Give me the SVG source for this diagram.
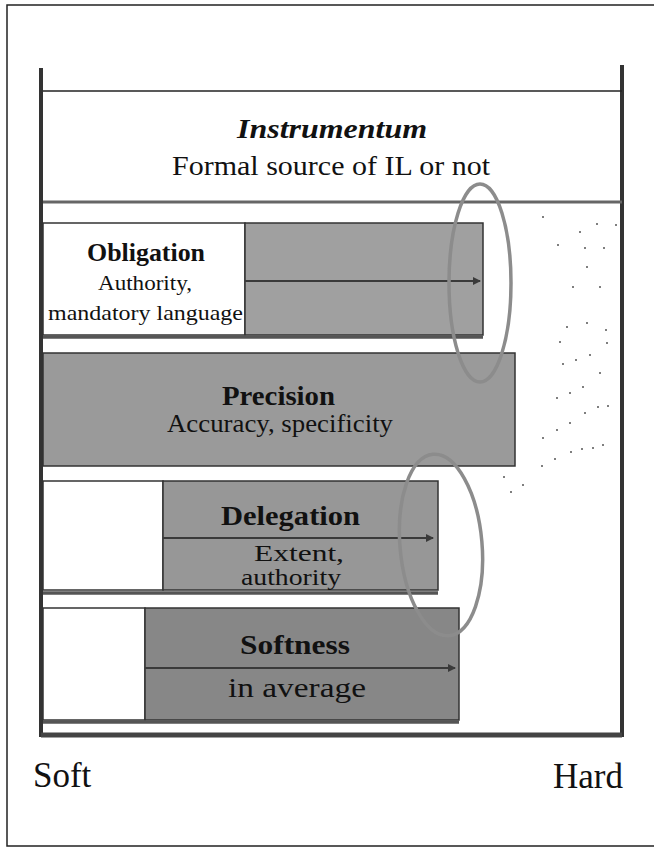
<svg xmlns="http://www.w3.org/2000/svg" width="654" height="848" viewBox="0 0 654 848">
<defs>
<style>
.t{font-family:"Liberation Serif","Times New Roman",serif;fill:#111;text-anchor:middle}
.b{font-weight:bold}
.wall{stroke:#333;stroke-width:4;fill:none}
.box{stroke:#333;stroke-width:1.5}
.white{fill:#fff}
.g1{fill:#a0a0a0}
.g2{fill:#9a9a9a}
.g3{fill:#979797}
.g4{fill:#878787}
.band{stroke:#555;stroke-width:3.5}
.arrow{stroke:#3a3a3a;stroke-width:2;fill:none;marker-end:url(#ah)}
.ring{fill:none;stroke:#8c8c8c;stroke-width:3.5}
.dot{fill:#555}
</style>
<marker id="ah" markerWidth="8" markerHeight="8" refX="7" refY="4" orient="auto" markerUnits="userSpaceOnUse">
<path d="M0,0 L8,4 L0,8 Z" fill="#3a3a3a"/>
</marker>
</defs>
<rect width="654" height="848" fill="#fff"/>
<g id="frame">
<path d="M654,5 H7 V846 H654" fill="none" stroke="#222" stroke-width="1.5"/>
</g>
<g id="container">
<line x1="41" y1="68" x2="41" y2="737" class="wall"/>
<line x1="622" y1="65" x2="622" y2="737" class="wall"/>
<line x1="41" y1="735" x2="622" y2="735" stroke="#444" stroke-width="5"/>
</g>
<g id="instrumentum">
<line x1="43" y1="91" x2="622" y2="91" stroke="#222" stroke-width="1.5"/>
<line x1="43" y1="202" x2="622" y2="202" stroke="#666" stroke-width="3"/>
<text class="t b" x="332" y="138" font-size="28" font-style="italic" textLength="190" lengthAdjust="spacingAndGlyphs">Instrumentum</text>
<text class="t" x="331" y="175" font-size="28" textLength="318" lengthAdjust="spacingAndGlyphs">Formal source of IL or not</text>
</g>
<g id="dots">
<circle class="dot" cx="543" cy="217" r="1"/><circle class="dot" cx="597" cy="224" r="1"/><circle class="dot" cx="616" cy="225" r="1"/>
<circle class="dot" cx="580" cy="232" r="1"/><circle class="dot" cx="558" cy="245" r="1"/><circle class="dot" cx="585" cy="248" r="1"/>
<circle class="dot" cx="604" cy="248" r="1"/><circle class="dot" cx="587" cy="267" r="1"/><circle class="dot" cx="573" cy="287" r="1"/>
<circle class="dot" cx="600" cy="287" r="1"/><circle class="dot" cx="567" cy="327" r="1"/><circle class="dot" cx="587" cy="323" r="1"/>
<circle class="dot" cx="606" cy="330" r="1"/><circle class="dot" cx="560" cy="342" r="1"/><circle class="dot" cx="607" cy="343" r="1"/>
<circle class="dot" cx="590" cy="355" r="1"/><circle class="dot" cx="576" cy="360" r="1"/><circle class="dot" cx="563" cy="364" r="1"/>
<circle class="dot" cx="600" cy="373" r="1"/><circle class="dot" cx="583" cy="387" r="1"/><circle class="dot" cx="570" cy="393" r="1"/>
<circle class="dot" cx="557" cy="398" r="1"/><circle class="dot" cx="608" cy="406" r="1"/><circle class="dot" cx="598" cy="407" r="1"/>
<circle class="dot" cx="585" cy="413" r="1"/><circle class="dot" cx="570" cy="423" r="1"/><circle class="dot" cx="557" cy="430" r="1"/>
<circle class="dot" cx="543" cy="438" r="1"/><circle class="dot" cx="603" cy="445" r="1"/><circle class="dot" cx="593" cy="448" r="1"/>
<circle class="dot" cx="582" cy="449" r="1"/><circle class="dot" cx="571" cy="452" r="1"/><circle class="dot" cx="555" cy="459" r="1"/>
<circle class="dot" cx="542" cy="466" r="1"/><circle class="dot" cx="523" cy="485" r="1"/><circle class="dot" cx="511" cy="492" r="1"/>
<circle class="dot" cx="504" cy="477" r="1"/>
</g>
<g id="obligation">
<rect class="box white" x="43" y="223" width="202" height="112"/>
<rect class="box g1" x="245" y="223" width="238" height="112"/>
<line class="band" x1="43" y1="337" x2="483" y2="337"/>
<text class="t b" x="146" y="261" font-size="25" textLength="118" lengthAdjust="spacingAndGlyphs">Obligation</text>
<text class="t" x="145" y="290" font-size="22" textLength="94" lengthAdjust="spacingAndGlyphs">Authority,</text>
<text class="t" x="145.5" y="320" font-size="22" textLength="195" lengthAdjust="spacingAndGlyphs">mandatory language</text>
</g>
<g id="precision">
<rect class="box g2" x="43" y="353" width="472" height="113"/>
<text class="t b" x="278.5" y="405" font-size="27" textLength="113" lengthAdjust="spacingAndGlyphs">Precision</text>
<text class="t" x="280" y="432" font-size="25" textLength="226" lengthAdjust="spacingAndGlyphs">Accuracy, specificity</text>
</g>
<g id="delegation">
<rect class="box white" x="43" y="481" width="120" height="109"/>
<rect class="box g3" x="163" y="481" width="275" height="109"/>
<line class="band" x1="43" y1="593" x2="438" y2="593"/>
<text class="t b" x="290.5" y="525" font-size="28" textLength="139" lengthAdjust="spacingAndGlyphs">Delegation</text>
<text class="t" x="299" y="561" font-size="24" textLength="90" lengthAdjust="spacingAndGlyphs">Extent,</text>
<text class="t" x="291" y="585" font-size="24" textLength="100" lengthAdjust="spacingAndGlyphs">authority</text>
</g>
<g id="softness">
<rect class="box white" x="43" y="608" width="102" height="112"/>
<rect class="box g4" x="145" y="608" width="314" height="112"/>
<line class="band" x1="43" y1="722" x2="459" y2="722"/>
<text class="t b" x="295" y="654" font-size="27" textLength="110" lengthAdjust="spacingAndGlyphs">Softness</text>
<text class="t" x="297" y="697" font-size="28" textLength="138" lengthAdjust="spacingAndGlyphs">in average</text>
</g>
<g id="connectors">
<line class="arrow" x1="245" y1="281" x2="480" y2="281"/>
<line class="arrow" x1="163" y1="538" x2="433" y2="538"/>
<line class="arrow" x1="145" y1="668" x2="455" y2="668"/>
</g>
<g id="highlights">
<ellipse class="ring" cx="480" cy="283" rx="31" ry="99"/>
<ellipse class="ring" cx="441" cy="545" rx="41" ry="91" transform="rotate(-5 441 545)"/>
</g>
<g id="axis">
<text class="t" x="33" y="787" font-size="35" style="text-anchor:start">Soft</text>
<text class="t" x="623" y="788" font-size="35" style="text-anchor:end">Hard</text>
</g>
</svg>
